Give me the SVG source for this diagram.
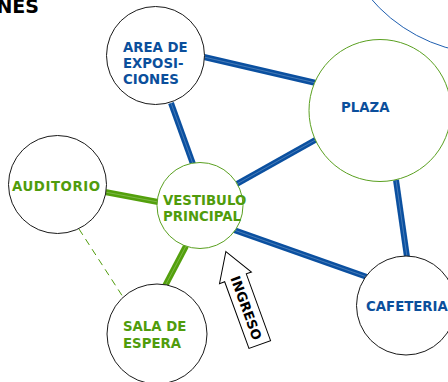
<svg xmlns="http://www.w3.org/2000/svg" width="448" height="382" viewBox="0 0 448 382">
<style>
.node{fill:#fff;stroke-width:1}
.blk{stroke:#1a1a1a}
.grn{stroke:#5aa020}
.t{font-family:"DejaVu Sans",Verdana,sans-serif;font-weight:bold;font-size:13.3px}
.tb{fill:#0b4f9c}
.tg{fill:#509c0c}
.cb{stroke:#0b50a0;stroke-width:6;fill:none}
.cg{stroke:#53a00c;stroke-width:6;fill:none}
.hl{stroke:#fff;stroke-opacity:0.3;stroke-width:0.8;fill:none}
</style>
<rect width="448" height="382" fill="#fff"/>
<text x="39" y="13" text-anchor="end" font-family="DejaVu Sans,Verdana,sans-serif" font-weight="bold" font-size="19" fill="#000">NES</text>
<circle cx="491" cy="-104" r="158" fill="none" stroke="#1f5fb0" stroke-width="1"/>
<g id="connectors">
<line class="cb" x1="204" y1="57" x2="316" y2="83"/><line class="hl" x1="204" y1="57" x2="316" y2="83"/>
<line class="cb" x1="171" y1="103" x2="193" y2="164"/><line class="hl" x1="171" y1="103" x2="193" y2="164"/>
<line class="cb" x1="235" y1="185" x2="317" y2="139"/><line class="hl" x1="235" y1="185" x2="317" y2="139"/>
<line class="cb" x1="234" y1="230" x2="367" y2="277"/><line class="hl" x1="234" y1="230" x2="367" y2="277"/>
<line class="cb" x1="396" y1="180" x2="407" y2="257"/><line class="hl" x1="396" y1="180" x2="407" y2="257"/>
<line class="cg" x1="105" y1="192" x2="158" y2="202"/><line class="hl" x1="105" y1="192" x2="158" y2="202"/>
<line class="cg" x1="186" y1="246" x2="165" y2="286"/><line class="hl" x1="186" y1="246" x2="165" y2="286"/>
<line x1="79" y1="229" x2="123" y2="297" stroke="#509c0c" stroke-width="1" stroke-dasharray="7,5"/>
</g>
<g id="area">
<circle class="node blk" cx="155.5" cy="55.5" r="49"/>
<text class="t tb" x="123" y="52">AREA DE</text>
<text class="t tb" x="123" y="68">EXPOSI-</text>
<text class="t tb" x="123" y="84">CIONES</text>
</g>
<g id="plaza">
<circle class="node grn" cx="380" cy="110.5" r="71"/>
<text class="t tb" x="341" y="112">PLAZA</text>
</g>
<g id="auditorio">
<circle class="node blk" cx="57.5" cy="184.5" r="49"/>
<text class="t tg" x="12" y="191" textLength="88" lengthAdjust="spacing">AUDITORIO</text>
</g>
<g id="vestibulo">
<circle class="node grn" cx="200" cy="205.5" r="43"/>
<text class="t tg" x="163" y="205">VESTIBULO</text>
<text class="t tg" x="163" y="221">PRINCIPAL</text>
</g>
<g id="sala">
<circle class="node blk" cx="157" cy="334" r="50"/>
<text class="t tg" x="123" y="331">SALA DE</text>
<text class="t tg" x="123" y="348">ESPERA</text>
</g>
<g id="cafeteria">
<circle class="node blk" cx="406" cy="305.5" r="49.5"/>
<text class="t tb" x="366" y="311">CAFETERIA</text>
</g>
<g id="ingreso" transform="translate(243,298.5) rotate(-20)">
<path d="M0,-50 L17,-22 L11.5,-22 L11.5,49 L-11.5,49 L-11.5,-22 L-17,-22 Z" fill="#fff" stroke="#000" stroke-width="1"/>
<text transform="rotate(90)" x="10" y="5" text-anchor="middle" font-family="DejaVu Sans,Verdana,sans-serif" font-weight="bold" font-size="13.3" fill="#000">INGRESO</text>
</g>
</svg>
